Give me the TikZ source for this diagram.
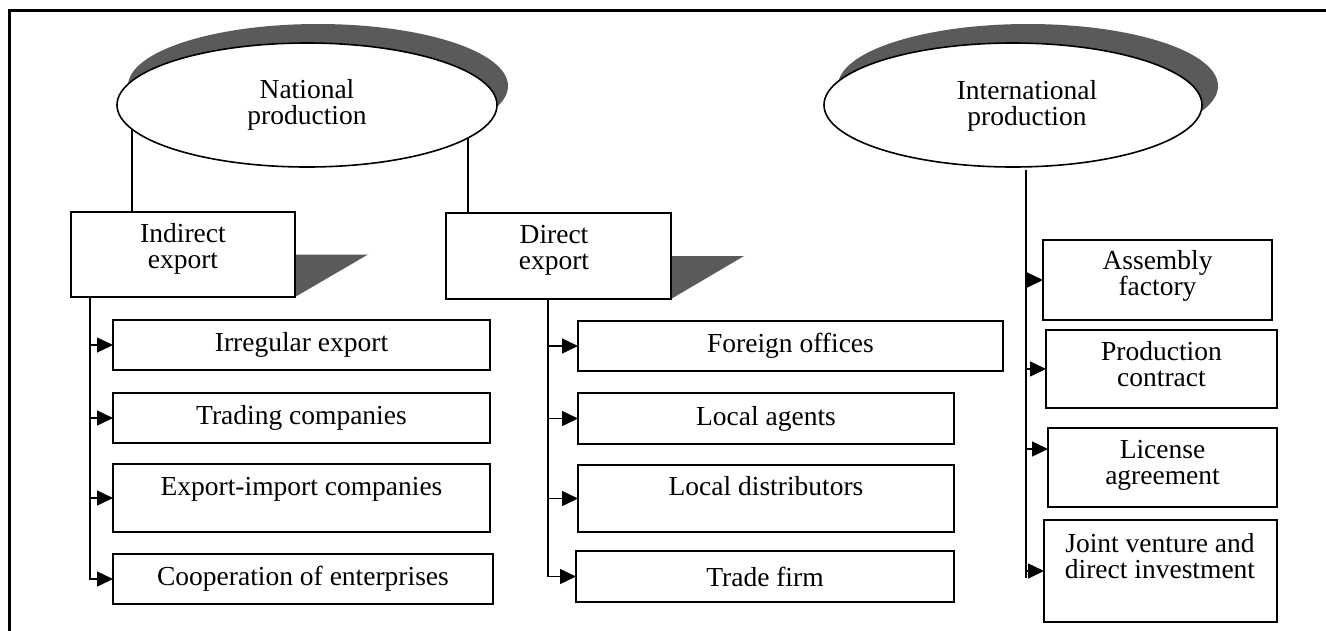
\documentclass[tikz,border=0pt]{standalone}
\usepackage{fontspec}
\setmainfont{Liberation Serif}
\usetikzlibrary{shapes.geometric,arrows.meta,backgrounds}
\definecolor{shdgray}{HTML}{5A5A5A}
\begin{document}
\begin{tikzpicture}[x=1pt,y=-1pt,
  every node/.style={font=\fontsize{27.5pt}{26pt}\selectfont, inner sep=0pt, outer sep=0pt},
  bx/.style={draw, line width=1.6pt, fill=white, rectangle, align=center},
  ell/.style={ellipse, draw, line width=1.6pt, fill=white, minimum width=380pt, minimum height=124pt, align=center},
  ellshadow/.style={ellipse, fill=shdgray, minimum width=380pt, minimum height=124pt},
  txt/.style={align=center},
  conn/.style={line width=1.5pt},
  arr/.style={line width=1.5pt, -{Triangle[length=16pt,width=15pt]}}]
\useasboundingbox (0,0) rectangle (1326,630);

% frame
\draw[line width=3pt] (1340,10) -- (9,10) -- (9,640);

% ellipses
\node[ellshadow] (natsh) at (318,86) {};
\node[ell] (nat) at (307,105) {National\\production};
\node[ellshadow] (intsh) at (1028,86) {};
\node[ell, minimum width=378pt] (intl) at (1013,105) {};
\node[txt] (intltxt) at (1027,106) {International\\production};

% second level
\node[bx, minimum width=224pt, minimum height=85pt] (ind) at (183,254.5) {};
\node[txt] (indtxt) at (183,249) {Indirect\\export};
\node[bx, minimum width=225pt, minimum height=86pt] (dir) at (558.5,256) {};
\node[txt] (dirtxt) at (554,250.5) {Direct\\export};

% indirect export items
\node[bx, minimum width=377pt, minimum height=50pt] (irr) at (301.5,345) {Irregular export};
\node[bx, minimum width=377pt, minimum height=50pt] (trd) at (301.5,418) {Trading companies};
\node[bx, minimum width=377pt, minimum height=68pt] (exi) at (301.5,498) {};
\node[anchor=base] (exitxt) at (301.5,495) {Export-import companies};
\node[bx, minimum width=380pt, minimum height=50pt] (coo) at (303,579) {Cooperation of enterprises};

% direct export items
\node[bx, minimum width=425pt, minimum height=50pt] (for) at (790.5,346) {Foreign offices};
\node[bx, minimum width=376pt, minimum height=51pt] (lag) at (766,418.5) {Local agents};
\node[bx, minimum width=376pt, minimum height=67pt] (ldi) at (766,498.5) {};
\node[anchor=base] (lditxt) at (766,495) {Local distributors};
\node[bx, minimum width=378pt, minimum height=51pt] (tfm) at (765,576.5) {Trade firm};

% international items
\node[bx, minimum width=229pt, minimum height=80pt] (asm) at (1157.5,280) {};
\node[txt] (asmtxt) at (1157.5,276) {Assembly\\factory};
\node[bx, minimum width=231pt, minimum height=78pt] (pco) at (1161.5,369) {};
\node[txt] (pcotxt) at (1161.5,364) {Production\\contract};
\node[bx, minimum width=229pt, minimum height=79pt] (lic) at (1162.5,467.5) {};
\node[txt] (lictxt) at (1162.5,465.5) {License\\agreement};
\node[bx, minimum width=233pt, minimum height=102pt] (jvd) at (1160.5,571) {};
\node[txt] (jvdtxt) at (1160,556) {Joint venture and\\direct investment};

\begin{pgfonlayer}{background}
  % box shadows
  \fill[shdgray] (ind.east) -- ++(73,0) -- (ind.south east) -- cycle;
  \fill[shdgray] (dir.east) -- ++(73,0) -- (dir.south east) -- cycle;
  % lines from national production
  \draw[conn] ([xshift=61pt]ind.north west) -- ++(0,-90);
  \draw[conn] ([xshift=22pt]dir.north west) -- ++(0,-85);
\end{pgfonlayer}

% indirect trunk
\coordinate (lt) at ([xshift=19pt]ind.south west);
\draw[arr] (lt) |- (irr.west);
\draw[arr] (lt) |- (trd.west);
\draw[arr] (lt) |- (exi.west);
\draw[arr] (lt) |- (coo.west);

% direct trunk
\coordinate (dt) at ([xshift=102pt]dir.south west);
\draw[arr] (dt) |- (for.west);
\draw[arr] (dt) |- (lag.west);
\draw[arr] (dt) |- (ldi.west);
\draw[arr] (dt) |- (tfm.west);

% international trunk
\coordinate (it) at ([xshift=13pt,yshift=-3pt]intl.south);
\coordinate (ib) at (1026,578);
\draw[conn] (it) -- (ib);
\coordinate (lp) at ([yshift=18.5pt]lic.west);
\draw[arr] (it |- asm.west) -- (asm.west);
\draw[arr] (it |- pco.west) -- (pco.west);
\draw[arr] (it |- lp) -- (lp);
\draw[arr] (it |- jvd.west) -- (jvd.west);
\end{tikzpicture}
\end{document}
